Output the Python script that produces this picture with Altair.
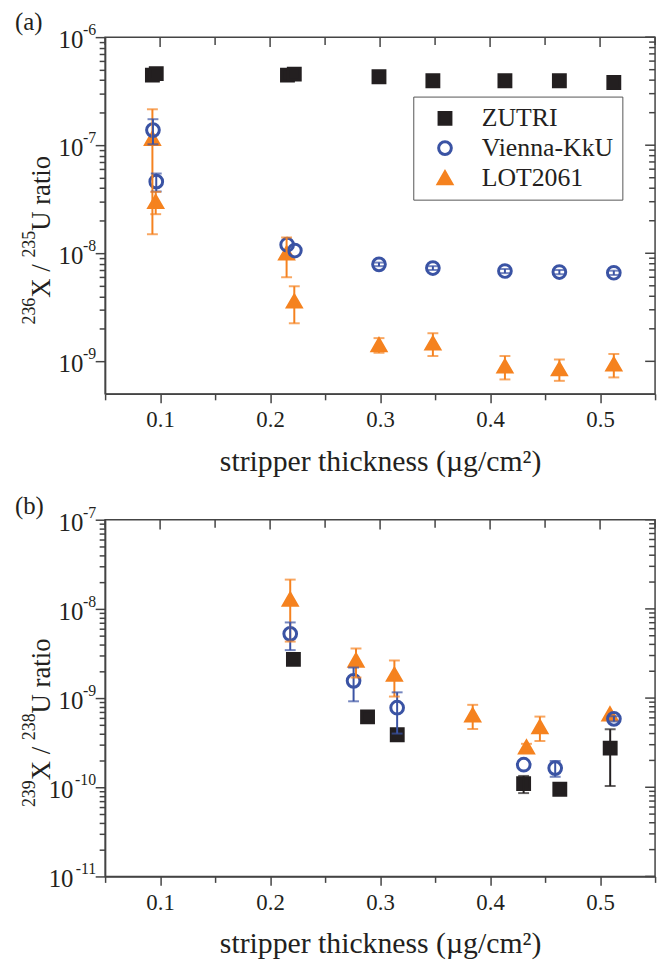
import altair as alt
import pandas as pd

FONT = "Liberation Serif"
INK = "#231F20"
AX = "#444444"

SERIES = ["ZUTRI", "Vienna-KkU", "LOT2061"]
COLORS = ["#231F20", "#3A53A4", "#F5821F"]
SHAPES = ["square", "circle", "triangle-up"]
FILLS = ["#231F20", "transparent", "#F5821F"]
SIZES = [144, 185, 215]

# ---------------- panel (a): 236X / 235U ratio ----------------
a_zutri_x = [0.093, 0.0965, 0.2158, 0.222, 0.299, 0.348, 0.4135, 0.463, 0.5125]
a_zutri_y = [4.45e-7, 4.6e-7, 4.45e-7, 4.55e-7, 4.3e-7, 3.95e-7, 3.95e-7, 3.95e-7, 3.8e-7]
a_zutri_e = [0, 0, 0, 0, 0, 0, 0, 0, 0]

a_vienna_x = [0.0935, 0.0965, 0.2155, 0.2225, 0.299, 0.348, 0.4135, 0.463, 0.5125]
a_vienna_y = [1.38e-7, 4.6e-8, 1.2e-8, 1.06e-8, 7.9e-9, 7.3e-9, 6.85e-9, 6.7e-9, 6.6e-9]
a_vienna_e = [3.6e-8, 8.7e-9, 0, 0, 3e-10, 3e-10, 3e-10, 3e-10, 3e-10]

a_lot_x = [0.093, 0.096, 0.215, 0.222, 0.299, 0.348, 0.4135, 0.463, 0.5125]
a_lot_y = [1.15e-7, 3.0e-8, 1.0e-8, 3.6e-9, 1.42e-9, 1.47e-9, 9.0e-10, 8.5e-10, 9.4e-10]
a_lot_e = [1.0e-7, 7e-9, 4e-9, 1.35e-9, 2.2e-10, 3.5e-10, 2.2e-10, 1.9e-10, 2.3e-10]

# ---------------- panel (b): 239X / 238U ratio ----------------
b_zutri_x = [0.2212, 0.2886, 0.3156, 0.4305, 0.4634, 0.5092]
b_zutri_y = [2.72e-9, 6.15e-10, 3.88e-10, 1.1e-10, 9.5e-11, 2.75e-10]
b_zutri_e = [0, 0, 0, 2.4e-11, 0, 1.72e-10]

b_vienna_x = [0.2183, 0.2759, 0.3155, 0.4306, 0.4592, 0.5126]
b_vienna_y = [5.25e-9, 1.56e-9, 7.8e-10, 1.79e-10, 1.64e-10, 5.85e-10]
b_vienna_e = [1.8e-9, 6.4e-10, 3.8e-10, 0, 3.3e-11, 4e-11]

b_lot_x = [0.2183, 0.2781, 0.313, 0.3842, 0.4331, 0.4453, 0.509]
b_lot_y = [1.28e-8, 2.65e-9, 1.84e-9, 6.45e-10, 2.82e-10, 4.75e-10, 6.6e-10]
b_lot_e = [8.5e-9, 9.5e-10, 8e-10, 1.95e-10, 2.5e-11, 1.45e-10, 0]

X_TICKS = [0.05, 0.1, 0.15, 0.2, 0.25, 0.3, 0.35, 0.4, 0.45, 0.5, 0.55]
X_TITLE = "stripper thickness (\u00b5g/cm\u00b2)"

# y-axis title pieces: (text, is_superscript)
TITLE_A = [("236", True), ("X / ", False), ("235", True), ("U ratio", False)]
TITLE_B = [("239", True), ("X / ", False), ("238", True), ("U ratio", False)]

# approximate advance widths (em) of a Times-metric font
ADV = {"0": .5, "1": .5, "2": .5, "3": .5, "4": .5, "5": .5, "6": .5, "7": .5, "8": .5, "9": .5,
       "X": .722, "U": .722, " ": .25, "/": .278, "r": .333, "a": .444, "t": .278, "i": .278, "o": .5}
T_MAIN, T_SUP = 27, 18

ONE = pd.DataFrame({"k": [0]})


def frame(series_lists):
    rows = []
    for name, xs, ys, es in series_lists:
        for x, y, e in zip(xs, ys, es):
            rows.append({"series": name, "x": x, "y": y, "err": e})
    return pd.DataFrame(rows)


def log_ticks(e_lo, e_hi, lo, hi):
    vals = []
    for e in range(e_lo, e_hi + 1):
        for m in range(1, 10):
            v = float(f"{m}e{e}")
            if lo * 0.999 <= v <= hi * 1.001:
                vals.append(v)
    return vals


MAJOR_Y = "abs(log(datum.value)/LN10 - round(log(datum.value)/LN10)) < 0.001"
MAJOR_X = "abs(datum.value*10 - round(datum.value*10)) < 0.001"


def txt(text, x, y, fs, angle=0, align="left"):
    return alt.Chart(ONE).mark_text(
        angle=angle, align=align, baseline="alphabetic", font=FONT, fontSize=fs, color=INK
    ).encode(x=alt.value(x), y=alt.value(y), text=alt.value(text))


def y_title_layers(pieces):
    layers = []
    pos = 290.0
    for text, sup in pieces:
        fs = T_SUP if sup else T_MAIN
        layers.append(txt(text, -71 if sup else -56, pos, fs, angle=270))
        pos -= sum(ADV[c] for c in text) * fs
    return layers


def panel(df, y_lo, y_hi, exps, pieces, legend_y, tag, tag_y):
    yt = log_ticks(min(exps), max(exps), y_lo, y_hi)
    xs = alt.Scale(domain=[0.05, 0.55], nice=False, zero=False)
    ys = alt.Scale(type="log", domain=[y_lo, y_hi], nice=False)

    x_axis = alt.Axis(
        values=X_TICKS,
        labelExpr=f"({MAJOR_X} && datum.value > 0.07 && datum.value < 0.53) ? format(datum.value, '.1f') : ''",
        tickSize={"condition": {"test": MAJOR_X, "value": 9}, "value": 6},
        labelFont=FONT, labelFontSize=23, labelColor=INK, labelPadding=6,
        title=X_TITLE, titleFont=FONT, titleFontSize=30, titleFontWeight="normal",
        titleColor=INK, titlePadding=15, grid=False, labelFlush=False,
    )
    y_axis = alt.Axis(
        values=yt, labels=False, title=None,
        tickSize={"condition": {"test": MAJOR_Y, "value": 10}, "value": 6},
        grid=False,
    )
    leg = alt.Legend(
        title=None, orient="none", legendX=311, legendY=legend_y,
        labelFont=FONT, labelFontSize=26, labelColor=INK,
        strokeColor="#555555", padding=9, rowPadding=4,
        symbolOffset=10, labelOffset=24, fillColor="white", symbolStrokeWidth=3,
    )
    base = alt.Chart(df)
    pts = base.mark_point(opacity=1, strokeWidth=3).encode(
        x=alt.X("x:Q", scale=xs, axis=x_axis),
        y=alt.Y("y:Q", scale=ys, axis=y_axis),
        shape=alt.Shape("series:N", scale=alt.Scale(domain=SERIES, range=SHAPES), legend=leg),
        fill=alt.Fill("series:N", scale=alt.Scale(domain=SERIES, range=FILLS), legend=leg),
        stroke=alt.Stroke("series:N", scale=alt.Scale(domain=SERIES, range=COLORS), legend=leg),
        size=alt.Size("series:N", scale=alt.Scale(domain=SERIES, range=SIZES), legend=leg),
    )
    eb = base.transform_filter("datum.err > 0").transform_calculate(
        lo="datum.y - datum.err", hi="datum.y + datum.err"
    )
    ecol = alt.Color("series:N", scale=alt.Scale(domain=SERIES, range=COLORS), legend=None)
    rule = eb.mark_rule(strokeWidth=2).encode(x="x:Q", y="lo:Q", y2="hi:Q", color=ecol)
    cap_lo = eb.mark_tick(orient="horizontal", size=11, thickness=2).encode(x="x:Q", y="lo:Q", color=ecol)
    cap_hi = eb.mark_tick(orient="horizontal", size=11, thickness=2).encode(x="x:Q", y="hi:Q", color=ecol)

    mx = MAJOR_X.replace("datum.value", "datum.t")
    my = MAJOR_Y.replace("datum.value", "datum.t")
    xt = alt.Chart(pd.DataFrame({"t": X_TICKS}))
    top_major = xt.transform_filter(mx).mark_rule(color=AX, strokeWidth=1.5).encode(
        x="t:Q", y=alt.value(0), y2=alt.value(10))
    top_minor = xt.transform_filter(f"!({mx})").mark_rule(color=AX, strokeWidth=1.5).encode(
        x="t:Q", y=alt.value(0), y2=alt.value(8))
    ytk = alt.Chart(pd.DataFrame({"t": yt}))
    right_major = ytk.transform_filter(my).mark_rule(color=AX, strokeWidth=1.5).encode(
        y="t:Q", x=alt.value(555), x2=alt.value(545))
    right_minor = ytk.transform_filter(f"!({my})").mark_rule(color=AX, strokeWidth=1.5).encode(
        y="t:Q", x=alt.value(555), x2=alt.value(549))

    # y tick labels: "10" with a raised exponent
    dec = ytk.transform_filter(my).transform_calculate(
        e="round(log(datum.t)/LN10)", sup="toString(round(log(datum.t)/LN10))"
    )
    lab_short = dec.transform_filter("datum.e > -10").mark_text(
        align="right", baseline="alphabetic", font=FONT, fontSize=25, color=INK, dy=11
    ).encode(y="t:Q", x=alt.value(-22), text=alt.value("10"))
    lab_long = dec.transform_filter("datum.e <= -10").mark_text(
        align="right", baseline="alphabetic", font=FONT, fontSize=25, color=INK, dy=11
    ).encode(y="t:Q", x=alt.value(-32), text=alt.value("10"))
    lab_sup = dec.mark_text(
        align="right", baseline="alphabetic", font=FONT, fontSize=16, color=INK, dy=-2
    ).encode(y="t:Q", x=alt.value(-9), text="sup:N")

    layers = [pts, rule, cap_lo, cap_hi, top_major, top_minor, right_major, right_minor,
              lab_short, lab_long, lab_sup, txt(tag, -91, tag_y, 25)]
    layers += y_title_layers(pieces)
    return alt.layer(*layers).properties(width=555, height=360)


df_a = frame([
    ("LOT2061", a_lot_x, a_lot_y, a_lot_e),
    ("ZUTRI", a_zutri_x, a_zutri_y, a_zutri_e),
    ("Vienna-KkU", a_vienna_x, a_vienna_y, a_vienna_e),
])
df_b = frame([
    ("LOT2061", b_lot_x, b_lot_y, b_lot_e),
    ("ZUTRI", b_zutri_x, b_zutri_y, b_zutri_e),
    ("Vienna-KkU", b_vienna_x, b_vienna_y, b_vienna_e),
])

pa = panel(df_a, 5e-10, 1e-6, [-9, -8, -7, -6], TITLE_A, 60, "(a)", -7)
pb = panel(df_b, 1e-11, 1e-7, [-11, -10, -9, -8, -7], TITLE_B, 17, "(b)", -6)

chart = alt.vconcat(pa, pb, spacing=16).properties(
    padding={"left": 6, "top": -3, "right": 5, "bottom": 5}
).configure_view(stroke=AX, strokeWidth=1.5).configure_axis(
    domainColor=AX, domainWidth=1.5, tickColor=AX, tickWidth=1.5
)

chart.save("out.html", embed_options={"renderer": "svg", "actions": False})
